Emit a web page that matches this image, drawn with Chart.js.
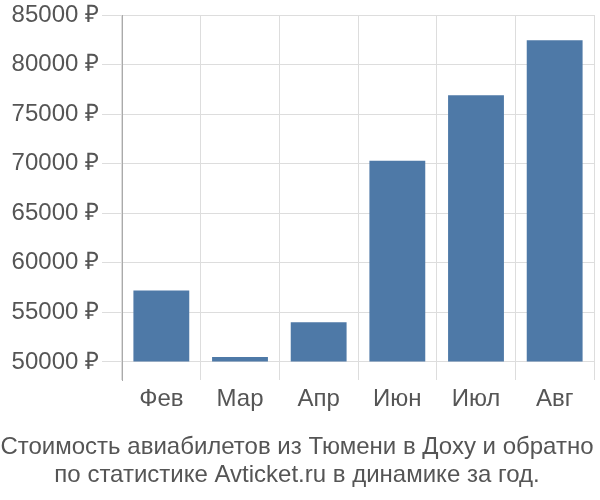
<html lang="ru">
<head>
    <meta charset="UTF-8">
    <title>Стоимость авиабилетов</title>
    <script src="https://cdn.jsdelivr.net/npm/chart.js"></script>
    <style>
        body { margin: 0; background: #fff; }
        #grafico { width: 600px; height: 500px; }
    </style>
</head>
<body>
    <div id="grafico">
        <canvas id="graficoPrecios"></canvas>
    </div>

    <script>
        // datos del gráfico
        var meses = ["Фев", "Мар", "Апр", "Июн", "Июл", "Авг"];
        var precios = [57200, 50500, 54000, 70300, 76900, 82450];
        var marcasY = [50000, 55000, 60000, 65000, 70000, 75000, 80000, 85000];
        var titulo = ["Стоимость авиабилетов из Тюмени в Доху и обратно", "по статистике Avticket.ru в динамике за год."];

        var fuente = "'Liberation Sans', Arial, sans-serif";

        var ctx = document.getElementById("graficoPrecios").getContext("2d");
        var grafico = new Chart(ctx, {
            type: 'bar',
            data: {
                labels: meses,
                datasets: [{
                    data: precios,
                    base: 50000,
                    backgroundColor: '#4e79a7',
                    borderWidth: 0,
                    categoryPercentage: 1,
                    barPercentage: 0.71
                }]
            },
            options: {
                responsive: true,
                maintainAspectRatio: false,
                animation: false,
                layout: { padding: { top: 15, right: 6, left: 0, bottom: 11 } },
                plugins: {
                    legend: { display: false },
                    tooltip: { enabled: false },
                    title: {
                        display: true,
                        position: 'bottom',
                        text: titulo,
                        color: '#555',
                        font: { family: fuente, size: 24, weight: 'normal', lineHeight: 1.17 },
                        padding: { top: 14, bottom: 0 }
                    }
                },
                scales: {
                    x: {
                        grid: { color: '#dddddd', drawTicks: false, offset: true },
                        border: { display: false },
                        ticks: { color: '#555', font: { family: fuente, size: 24 }, padding: 5 }
                    },
                    y: {
                        min: 48180,
                        max: 85000,
                        afterBuildTicks: function (eje) {
                            eje.ticks = marcasY.map(v => ({ value: v }));
                        },
                        afterFit: function (eje) { eje.width = 122; },
                        grid: { color: '#dddddd', tickLength: 20 },
                        border: { color: '#aaaaaa' },
                        ticks: {
                            color: '#555',
                            font: { family: fuente, size: 24, lineHeight: 1 },
                            padding: 3,
                            callback: function (v) { return v + " ₽"; }
                        }
                    }
                }
            }
        });
    </script>
</body>
</html>
